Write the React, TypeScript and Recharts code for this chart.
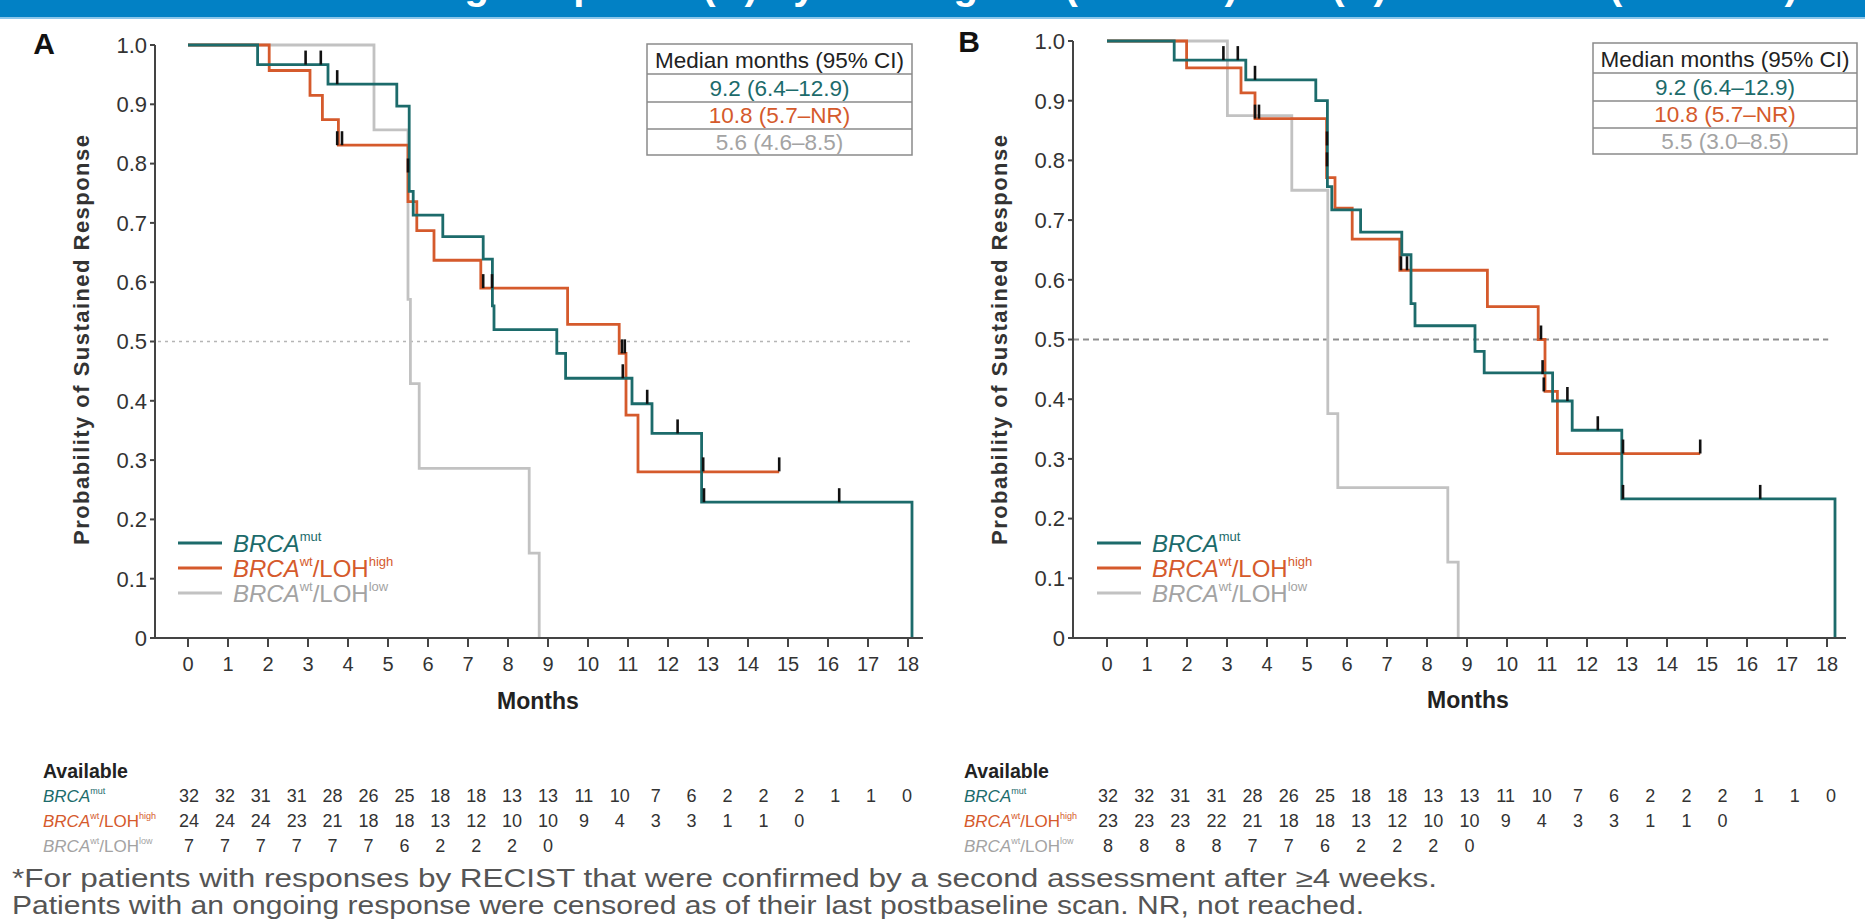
import { ComposedChart, Line, Scatter, XAxis, YAxis, ReferenceLine } from "recharts";

const TEAL = "#1c6b6b";
const ORANGE = "#d55a2c";
const GRAY = "#c2c2c2";
const GRAY_TEXT = "#a3a3a3";
const FONT = "'Liberation Sans', Arial, Helvetica, sans-serif";

const monthTicks = [0, 1, 2, 3, 4, 5, 6, 7, 8, 9, 10, 11, 12, 13, 14, 15, 16, 17, 18];
const probTicks = [0, 0.1, 0.2, 0.3, 0.4, 0.5, 0.6, 0.7, 0.8, 0.9, 1];

// ---- Panel A: KM step curves (months, probability)
const mutTimesA = [0, 1.74, 3.5, 5.22, 5.53, 5.63, 6.37, 7.38, 7.61, 7.65, 9.22, 9.44, 11.1, 11.6, 12.84, 18.1];
const mutSurvA = [1, 0.967, 0.934, 0.897, 0.753, 0.713, 0.677, 0.639, 0.56, 0.52, 0.48, 0.438, 0.395, 0.345, 0.229, 0];
const highTimesA = [0, 2.03, 3.05, 3.36, 3.76, 5.5, 5.72, 6.15, 7.32, 9.49, 10.78, 10.95, 11.25, 14.78];
const highSurvA = [1, 0.957, 0.915, 0.874, 0.831, 0.736, 0.687, 0.637, 0.59, 0.529, 0.48, 0.376, 0.28, 0.28];
const lowTimesA = [0, 4.65, 5.5, 5.56, 5.78, 8.53, 8.78];
const lowSurvA = [1, 0.857, 0.571, 0.429, 0.286, 0.143, 0];
const censorTimesA = [2.94, 3.32, 3.73, 5.5, 10.87, 11.48, 12.24, 12.9, 16.28, 3.73, 3.85, 7.38, 7.6, 10.85, 10.92, 12.88, 14.78];
const censorLevelsA = [0.967, 0.967, 0.934, 0.785, 0.438, 0.395, 0.345, 0.229, 0.229, 0.831, 0.831, 0.59, 0.59, 0.48, 0.48, 0.281, 0.281];

// ---- Panel B
const mutTimesB = [0, 1.68, 3.47, 5.22, 5.51, 5.62, 6.34, 7.37, 7.6, 7.7, 9.2, 9.43, 11.14, 11.63, 12.87, 18.2];
const mutSurvB = [1, 0.968, 0.935, 0.9, 0.756, 0.717, 0.68, 0.642, 0.56, 0.523, 0.48, 0.444, 0.397, 0.348, 0.233, 0];
const highTimesB = [0, 1.99, 3.35, 3.7, 5.49, 5.7, 6.13, 7.32, 9.51, 10.78, 10.95, 11.26, 14.83];
const highSurvB = [1, 0.955, 0.913, 0.87, 0.771, 0.72, 0.668, 0.616, 0.555, 0.5, 0.413, 0.309, 0.309];
const lowTimesB = [0, 3.01, 4.62, 5.52, 5.77, 8.52, 8.78];
const lowSurvB = [1, 0.875, 0.75, 0.376, 0.252, 0.127, 0];
const censorTimesB = [2.91, 3.27, 3.7, 5.5, 5.5, 10.89, 11.51, 12.27, 12.9, 16.33, 3.7, 3.8, 7.35, 7.5, 10.85, 10.92, 12.9, 14.83];
const censorLevelsB = [0.968, 0.968, 0.935, 0.825, 0.79, 0.442, 0.397, 0.348, 0.233, 0.233, 0.87, 0.87, 0.616, 0.616, 0.5, 0.413, 0.309, 0.309];

// ---- number available tables
const mutAvailA = [32, 32, 31, 31, 28, 26, 25, 18, 18, 13, 13, 11, 10, 7, 6, 2, 2, 2, 1, 1, 0];
const highAvailA = [24, 24, 24, 23, 21, 18, 18, 13, 12, 10, 10, 9, 4, 3, 3, 1, 1, 0];
const lowAvailA = [7, 7, 7, 7, 7, 7, 6, 2, 2, 2, 0];
const mutAvailB = [32, 32, 31, 31, 28, 26, 25, 18, 18, 13, 13, 11, 10, 7, 6, 2, 2, 2, 1, 1, 0];
const highAvailB = [23, 23, 23, 22, 21, 18, 18, 13, 12, 10, 10, 9, 4, 3, 3, 1, 1, 0];
const lowAvailB = [8, 8, 8, 8, 7, 7, 6, 2, 2, 2, 0];

const mediansA = ["9.2 (6.4–12.9)", "10.8 (5.7–NR)", "5.6 (4.6–8.5)"];
const mediansB = ["9.2 (6.4–12.9)", "10.8 (5.7–NR)", "5.5 (3.0–8.5)"];

const steps = (times: number[], surv: number[]) => times.map((t, i) => ({ t, s: surv[i] }));

const CensorTick = (props: any) => {
  const { cx, cy } = props;
  if (cx == null || cy == null) return null;
  return <line x1={cx} x2={cx} y1={cy} y2={cy - 14} stroke="#111" strokeWidth={2.6} />;
};

type PanelProps = {
  left: number;
  top: number;
  right: number;
  domain: [number, number];
  curves: { data: { t: number; s: number }[]; color: string }[];
  censors: { t: number; s: number }[];
  refSeg: [number, number];
  refColor: string;
  refDash: string;
  refWidth: number;
};

const KMPanel = ({ left, top, right, domain, curves, censors, refSeg, refColor, refDash, refWidth }: PanelProps) => (
  <div style={{ position: "absolute", left, top: 0 }}>
    <ComposedChart width={940} height={720} margin={{ top, right, bottom: 0, left: 100 }}>
      <XAxis
        type="number"
        dataKey="t"
        domain={domain}
        ticks={monthTicks}
        interval={0}
        allowDataOverflow
        height={82}
        tickSize={9}
        tickMargin={10}
        axisLine={{ stroke: "#444", strokeWidth: 2 }}
        tickLine={{ stroke: "#444", strokeWidth: 2 }}
        tick={{ fontSize: 20, fill: "#333", fontFamily: FONT }}
      />
      <YAxis
        type="number"
        dataKey="s"
        domain={[0, 1]}
        ticks={probTicks}
        interval={0}
        width={55}
        tickSize={5}
        tickMargin={3}
        axisLine={{ stroke: "#444", strokeWidth: 2 }}
        tickLine={{ stroke: "#444", strokeWidth: 2 }}
        tick={{ fontSize: 22, fill: "#333", fontFamily: FONT }}
        tickFormatter={(v: number) => (v === 0 ? "0" : v.toFixed(1))}
      />
      <ReferenceLine
        segment={[{ x: refSeg[0], y: 0.5 }, { x: refSeg[1], y: 0.5 }]}
        stroke={refColor}
        strokeDasharray={refDash}
        strokeWidth={refWidth}
        ifOverflow="visible"
      />
      {curves.map((c, i) => (
        <Line
          key={i}
          data={c.data}
          dataKey="s"
          type="stepAfter"
          stroke={c.color}
          strokeWidth={2.8}
          dot={false}
          activeDot={false}
          isAnimationActive={false}
        />
      ))}
      <Scatter data={censors} shape={CensorTick} isAnimationActive={false} />
    </ComposedChart>
  </div>
);

// legend/table label: BRCA^sup[/LOH^sup2]
const GroupLabel = ({ x, y, size, color, sup, loh }: { x: number; y: number; size: number; color: string; sup: string; loh?: string }) => {
  const s = Math.round(size * 0.55);
  const d = Math.round(size * 0.28);
  return (
    <text x={x} y={y} fontSize={size} fill={color} fontFamily={FONT} dominantBaseline="central">
      <tspan fontStyle="italic">BRCA</tspan>
      <tspan fontSize={s} dy={-d}>{sup}</tspan>
      {loh ? (
        <>
          <tspan dy={d}>/LOH</tspan>
          <tspan fontSize={s} dy={-d}>{loh}</tspan>
        </>
      ) : null}
    </text>
  );
};

const Legend = ({ x }: { x: number }) => (
  <g>
    {[TEAL, ORANGE, GRAY].map((c, i) => (
      <line key={i} x1={x} x2={x + 44} y1={543 + i * 25} y2={543 + i * 25} stroke={c} strokeWidth={3} />
    ))}
    <GroupLabel x={x + 55} y={543} size={24} color={TEAL} sup="mut" />
    <GroupLabel x={x + 55} y={568} size={24} color={ORANGE} sup="wt" loh="high" />
    <GroupLabel x={x + 55} y={593} size={24} color={GRAY_TEXT} sup="wt" loh="low" />
  </g>
);

const MedianTable = ({ x, y, w, rows }: { x: number; y: number; w: number; rows: string[] }) => {
  const lines = [y, y + 30, y + 58, y + 85, y + 111];
  const colors = [TEAL, ORANGE, GRAY_TEXT];
  return (
    <g>
      <rect x={x} y={y} width={w} height={111} fill="#fff" stroke="#8a8a8a" strokeWidth={1.5} />
      {lines.slice(1, 4).map((ly, i) => (
        <line key={i} x1={x} x2={x + w} y1={ly} y2={ly} stroke="#8a8a8a" strokeWidth={1.5} />
      ))}
      <text x={x + w / 2} y={y + 16} textAnchor="middle" dominantBaseline="central" fontSize={22.5} fill="#222" fontFamily={FONT}>
        Median months (95% CI)
      </text>
      {rows.map((r, i) => (
        <text
          key={i}
          x={x + w / 2}
          y={(lines[i + 1] + lines[i + 2]) / 2}
          textAnchor="middle"
          dominantBaseline="central"
          fontSize={22.5}
          fill={colors[i]}
          fontFamily={FONT}
        >
          {r}
        </text>
      ))}
    </g>
  );
};

const AvailTable = ({ x, firstX, step, rows }: { x: number; firstX: number; step: number; rows: number[][] }) => {
  const ys = [796, 821, 846];
  return (
    <g fontFamily={FONT}>
      <text x={x} y={771} fontSize={19.5} fontWeight="bold" fill="#222" dominantBaseline="central">
        Available
      </text>
      <GroupLabel x={x} y={ys[0]} size={17} color={TEAL} sup="mut" />
      <GroupLabel x={x} y={ys[1]} size={17} color={ORANGE} sup="wt" loh="high" />
      <GroupLabel x={x} y={ys[2]} size={17} color={GRAY_TEXT} sup="wt" loh="low" />
      {rows.map((row, r) =>
        row.map((v, i) => (
          <text
            key={`${r}-${i}`}
            x={firstX + i * step}
            y={ys[r]}
            fontSize={18}
            fill="#333"
            textAnchor="middle"
            dominantBaseline="central"
          >
            {v}
          </text>
        ))
      )}
    </g>
  );
};

export default function App() {
  const curvesA = [
    { data: steps(lowTimesA, lowSurvA), color: GRAY },
    { data: steps(highTimesA, highSurvA), color: ORANGE },
    { data: steps(mutTimesA, mutSurvA), color: TEAL },
  ];
  const curvesB = [
    { data: steps(lowTimesB, lowSurvB), color: GRAY },
    { data: steps(highTimesB, highSurvB), color: ORANGE },
    { data: steps(mutTimesB, mutSurvB), color: TEAL },
  ];
  return (
    <div
      style={{
        position: "absolute",
        left: 0,
        top: 0,
        width: 1865,
        height: 920,
        background: "#fff",
        overflow: "hidden",
        fontFamily: FONT,
      }}
    >
      <div
        style={{
          position: "absolute",
          left: 0,
          top: 0,
          width: 1865,
          height: 17,
          background: "#0281c5",
          borderBottom: "2px solid #8cc6ea",
          overflow: "hidden",
        }}
      >
        <div
          style={{
            position: "absolute",
            left: 60,
            top: -38,
            fontSize: 40,
            fontWeight: "bold",
            color: "#fff",
            whiteSpace: "nowrap",
            lineHeight: "46px",
          }}
        >
          Duration of Sustaining Response (A) by Investigator (RECIST) and (B) Confirmed (RECIST*)
        </div>
      </div>

      <KMPanel
        left={0}
        top={45}
        right={17}
        domain={[-0.825, 18.375]}
        curves={curvesA}
        censors={steps(censorTimesA, censorLevelsA)}
        refSeg={[-0.75, 18.05]}
        refColor="#b5b5b5"
        refDash="3 4"
        refWidth={1.5}
      />
      <KMPanel
        left={918}
        top={41}
        right={12}
        domain={[-0.85, 18.475]}
        curves={curvesB}
        censors={steps(censorTimesB, censorLevelsB)}
        refSeg={[-0.85, 18.03]}
        refColor="#8f8f8f"
        refDash="6 4"
        refWidth={2}
      />

      <svg width={1865} height={920} style={{ position: "absolute", left: 0, top: 0, pointerEvents: "none" }}>
        <text x={44} y={43} fontSize={30} fontWeight="bold" fill="#111" textAnchor="middle" dominantBaseline="central" fontFamily={FONT}>
          A
        </text>
        <text x={969} y={41} fontSize={30} fontWeight="bold" fill="#111" textAnchor="middle" dominantBaseline="central" fontFamily={FONT}>
          B
        </text>

        <text
          x={81}
          y={340}
          transform="rotate(-90, 81, 340)"
          textAnchor="middle"
          dominantBaseline="central"
          fontSize={22}
          fontWeight="bold"
          fill="#333"
          fontFamily={FONT}
          textLength={410}
          lengthAdjust="spacing"
        >
          Probability of Sustained Response
        </text>
        <text
          x={999}
          y={340}
          transform="rotate(-90, 999, 340)"
          textAnchor="middle"
          dominantBaseline="central"
          fontSize={22}
          fontWeight="bold"
          fill="#333"
          fontFamily={FONT}
          textLength={410}
          lengthAdjust="spacing"
        >
          Probability of Sustained Response
        </text>
        <text x={538} y={701} textAnchor="middle" dominantBaseline="central" fontSize={23} fontWeight="bold" fill="#222" fontFamily={FONT}>
          Months
        </text>
        <text x={1468} y={700} textAnchor="middle" dominantBaseline="central" fontSize={23} fontWeight="bold" fill="#222" fontFamily={FONT}>
          Months
        </text>

        <MedianTable x={647} y={44} w={265} rows={mediansA} />
        <MedianTable x={1593} y={43} w={264} rows={mediansB} />

        <Legend x={178} />
        <Legend x={1097} />

        <AvailTable x={43} firstX={189} step={35.9} rows={[mutAvailA, highAvailA, lowAvailA]} />
        <AvailTable x={964} firstX={1108} step={36.15} rows={[mutAvailB, highAvailB, lowAvailB]} />

        <text x={12} y={887} fontSize={26} fill="#555" fontFamily={FONT} textLength={1425} lengthAdjust="spacingAndGlyphs">
          *For patients with responses by RECIST that were confirmed by a second assessment after ≥4 weeks.
        </text>
        <text x={12} y={914} fontSize={26} fill="#555" fontFamily={FONT} textLength={1352} lengthAdjust="spacingAndGlyphs">
          Patients with an ongoing response were censored as of their last postbaseline scan. NR, not reached.
        </text>
      </svg>
    </div>
  );
}
